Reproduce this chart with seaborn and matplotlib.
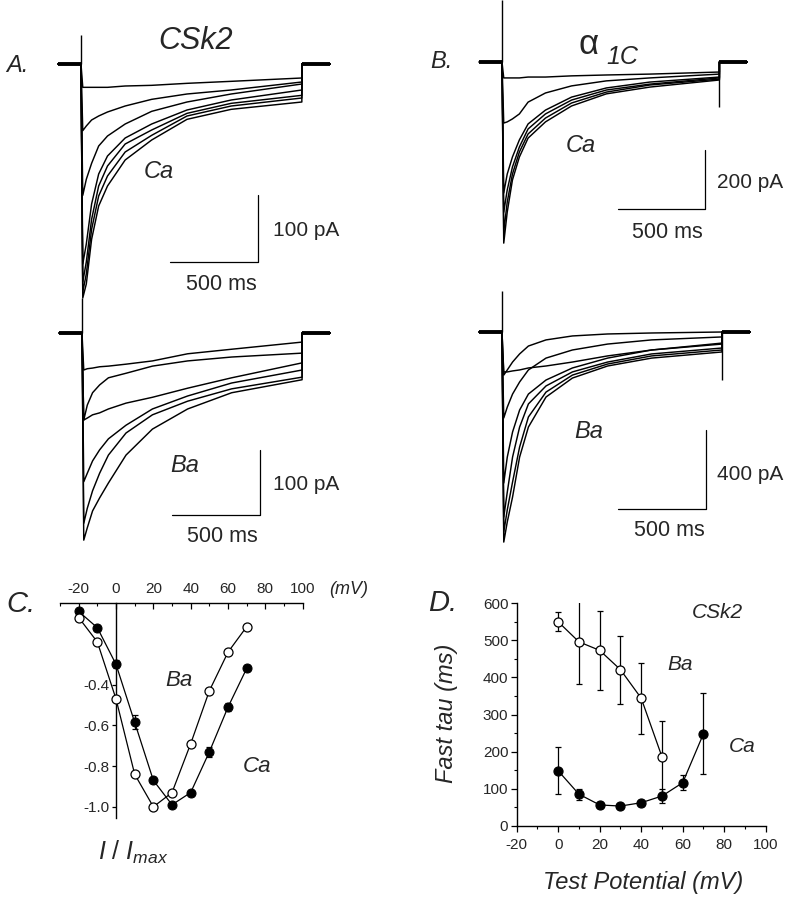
import matplotlib
matplotlib.use("Agg")
import matplotlib.pyplot as plt
import matplotlib.ticker as mticker
import pandas as pd
import seaborn as sns

sns.set_theme(style="white")
plt.rcParams['font.family'] = ['Liberation Sans', 'DejaVu Sans']
plt.rcParams['axes.unicode_minus'] = False
plt.rcParams['mathtext.fontset'] = 'custom'
plt.rcParams['mathtext.it'] = 'Liberation Sans:italic'
plt.rcParams['mathtext.rm'] = 'Liberation Sans'

W, H = 793, 899

# ---- whole-cell current sweeps (pA) sampled at step_t (ms after step onset) ----
step_t = [0, 10, 30, 60, 100, 150, 250, 400, 600, 850, 1250]
hold_t = [-130, 1410]

csk2_ca = [
    [0, -35, -35, -35, -35, -35, -33, -32, -29, -26, -21],
    [0, -100, -93, -84, -78, -72, -63, -53, -45, -39, -27],
    [0, -197, -173, -149, -123, -108, -90, -71, -57, -45, -30],
    [0, -300, -270, -210, -165, -138, -111, -90, -69, -54, -39],
    [0, -327, -297, -233, -183, -153, -120, -99, -74, -59, -47],
    [0, -342, -315, -248, -198, -168, -132, -107, -78, -63, -51],
    [0, -351, -330, -263, -213, -183, -144, -114, -83, -68, -57],
]
csk2_ba = [
    [0, -57, -55, -54, -52, -51, -48, -43, -32, -25, -14],
    [0, -134, -111, -92, -80, -69, -62, -51, -43, -37, -31],
    [0, -134, -131, -126, -123, -117, -108, -99, -85, -69, -46],
    [0, -229, -216, -197, -180, -163, -142, -117, -97, -77, -57],
    [0, -293, -270, -243, -216, -188, -154, -126, -105, -86, -68],
    [0, -319, -300, -274, -254, -231, -188, -148, -117, -92, -72],
]
a1c_ca = [
    [0, -54, -54, -54, -54, -51, -51, -47, -44, -41, -34],
    [0, -207, -203, -193, -176, -136, -105, -81, -64, -54, -41],
    [0, -444, -380, -322, -264, -210, -163, -119, -88, -68, -51],
    [0, -509, -434, -356, -288, -227, -176, -129, -95, -75, -54],
    [0, -576, -475, -380, -305, -244, -190, -139, -102, -78, -58],
    [0, -614, -509, -400, -322, -258, -203, -149, -108, -85, -61],
]
a1c_ba = [
    [0, -218, -192, -152, -111, -71, -40, -20, -10, -5, 0],
    [0, -202, -202, -197, -192, -182, -172, -152, -121, -91, -56],
    [0, -435, -380, -314, -253, -192, -132, -91, -61, -40, -25],
    [0, -764, -633, -506, -395, -314, -243, -182, -132, -91, -61],
    [0, -936, -810, -633, -481, -364, -273, -202, -152, -111, -81],
    [0, -1012, -900, -759, -582, -430, -304, -218, -162, -121, -91],
    [0, -1063, -961, -835, -633, -481, -329, -233, -172, -132, -101],
]
# capacitive transients at step on / off (pA)
cap_on = [44, 54, 210, 205]
cap_off = [0, 0, -153, -243]

# ---- C: normalised I-V ----
iv_v = [-20, -10, 0, 10, 20, 30, 40, 50, 60, 70]
iv_ca = [-0.04, -0.12, -0.30, -0.585, -0.87, -0.99, -0.93, -0.73, -0.51, -0.32]
iv_ca_err = [0.01, 0.015, 0.02, 0.035, 0.015, 0.01, 0.015, 0.025, 0.02, 0.015]
iv_ba = [-0.07, -0.19, -0.47, -0.84, -1.0, -0.93, -0.69, -0.43, -0.24, -0.115]

# ---- D: fast inactivation tau ----
tau_v_ba = [0, 10, 20, 30, 40, 50]
tau_ba = [550, 496, 473, 421, 344, 186]
tau_ba_err = [26, 115, 107, 92, 96, 97]
tau_v_ca = [0, 10, 20, 30, 40, 50, 60, 70]
tau_ca = [148, 85, 56, 53, 62, 80, 116, 248]
tau_ca_err = [63, 15, 8, 7, 8, 18, 20, 109]

fig = plt.figure(figsize=(W / 100, H / 100), dpi=100)


def px_axes(l, t, r, b):
    return fig.add_axes([l / W, 1 - b / H, (r - l) / W, (b - t) / H])


def ftext(x, y, s, size, style='italic', **kw):
    fig.text(x / W, 1 - y / H, s, fontsize=size, style=style,
             ha=kw.pop('ha', 'center'), va=kw.pop('va', 'center'), **kw)


def trace_panel(box, x0, y0, ms_px, pa_px, sweeps, on, off, corner, bar_pa):
    l, t, r, b = box
    ax = px_axes(l, t, r, b)
    ax.set_xlim((l - x0) * ms_px, (r - x0) * ms_px)
    ax.set_ylim(-(b - y0) * pa_px, (y0 - t) * pa_px)
    ax.axis('off')
    rows = []
    for k, s in enumerate(sweeps):
        tt = [hold_t[0]] + step_t + [step_t[-1], hold_t[1]]
        ii = [0] + s + [0, 0]
        rows += [dict(t=a, I=c, sweep=k) for a, c in zip(tt, ii)]
    df = pd.DataFrame(rows)
    sns.lineplot(data=df, x='t', y='I', units='sweep', estimator=None,
                 sort=False, color='black', lw=1.05, ax=ax, legend=False)
    ax.plot([hold_t[0], 0], [0, 0], color='black', lw=2.8, solid_capstyle='butt')
    ax.plot([step_t[-1], hold_t[1]], [0, 0], color='black', lw=2.8, solid_capstyle='butt')
    ax.vlines([0, step_t[-1]], 0, [on, off], color='black', lw=1.0)
    ct, ci = corner
    ax.plot([ct - 500, ct, ct], [ci, ci, ci + bar_pa], color='black', lw=0.9,
            clip_on=False)
    return ax


trace_panel((50, 25, 340, 300), 81, 64, 5.66, 1.5, csk2_ca, cap_on[0], cap_off[0], (1003, -297), 100)
trace_panel((50, 290, 340, 560), 82, 333, 5.68, 1.54, csk2_ba, cap_on[1], cap_off[1], (1011, -280), 100)
trace_panel((470, 0, 760, 290), 502, 62, 5.75, 3.39, a1c_ca, cap_on[2], cap_off[2], (1167, -498), 200)
trace_panel((470, 285, 760, 560), 502, 332, 5.68, 5.06, a1c_ba, cap_on[3], cap_off[3], (1159, -896), 400)

# text of trace panels
ftext(17, 65, 'A.', 17)
ftext(196, 41, 'CSk2', 22)
ftext(159, 171, 'Ca', 17)
ftext(273, 231, '100 pA', 15, style='normal', ha='left')
ftext(221, 284, '500 ms', 15.5, style='normal')
ftext(441, 62, 'B.', 17)
ftext(589, 44, '\u03b1', 25, style='normal')
ftext(622, 57, '1C', 18)
ftext(581, 145, 'Ca', 17)
ftext(717, 183, '200 pA', 15, style='normal', ha='left')
ftext(667, 232, '500 ms', 15.5, style='normal')
ftext(185, 465, 'Ba', 17)
ftext(273, 485, '100 pA', 15, style='normal', ha='left')
ftext(222, 537, '500 ms', 15.5, style='normal')
ftext(589, 431, 'Ba', 17)
ftext(717, 474, '400 pA', 15, style='normal', ha='left')
ftext(669, 531, '500 ms', 15.5, style='normal')

# ---- panel C ----
axc = px_axes(60, 603.3, 302.7, 818)
sns.lineplot(x=iv_v, y=iv_ca, color='black', lw=0.9, ax=axc, marker='o',
             markersize=6.5, markerfacecolor='black', markeredgecolor='black', zorder=3)
axc.errorbar(iv_v, iv_ca, yerr=iv_ca_err, fmt='none', ecolor='black',
             elinewidth=0.9, capsize=2.5, capthick=0.9, zorder=2)
sns.lineplot(x=iv_v, y=iv_ba, color='black', lw=0.9, ax=axc, marker='o',
             markersize=6.5, markerfacecolor='white', markeredgecolor='black',
             markeredgewidth=0.9, zorder=4)
axc.set_xlim(-30, 100)
axc.set_ylim(-1.055, 0)
for s in ['bottom', 'right']:
    axc.spines[s].set_visible(False)
axc.spines['left'].set_position(('data', 0))
for s in ['left', 'top']:
    axc.spines[s].set_color('black')
    axc.spines[s].set_linewidth(1.0)
axc.xaxis.tick_top()
axc.set_xticks([-20, 0, 20, 40, 60, 80, 100])
axc.xaxis.set_minor_locator(mticker.MultipleLocator(10))
axc.set_yticks([-1.0, -0.8, -0.6, -0.4])
axc.set_yticklabels(['-1.0', '-0.8', '-0.6', '-0.4'])
axc.tick_params(axis='x', which='both', direction='in', top=True, bottom=False,
                color='black', labelsize=11, pad=5)
axc.tick_params(axis='x', which='major', length=4, width=0.9)
axc.tick_params(axis='x', which='minor', length=2, width=0.8)
axc.tick_params(axis='y', direction='out', left=True, length=3, width=0.9,
                color='black', labelsize=11, pad=2)
axc.set_xlabel('')
axc.set_ylabel('')
ftext(21, 604, 'C.', 21)
ftext(349, 590, '(mV)', 13)
ftext(179, 681, 'Ba', 16)
ftext(257, 766, 'Ca', 16)
ftext(133, 852, r'$I\ /\ I_{max}$', 18, style='normal')

# ---- panel D ----
axd = px_axes(516.7, 603.3, 765.7, 825.7)
sns.lineplot(x=tau_v_ba, y=tau_ba, color='black', lw=0.9, ax=axd, zorder=1)
axd.errorbar(tau_v_ba, tau_ba, yerr=tau_ba_err, fmt='none', ecolor='black',
             elinewidth=0.9, capsize=2.5, capthick=0.9, zorder=2)
sns.scatterplot(x=tau_v_ba, y=tau_ba, ax=axd, s=42, color='white',
                edgecolor='black', linewidth=0.9, zorder=4)
sns.lineplot(x=tau_v_ca, y=tau_ca, color='black', lw=0.9, ax=axd, zorder=1)
axd.errorbar(tau_v_ca, tau_ca, yerr=tau_ca_err, fmt='none', ecolor='black',
             elinewidth=0.9, capsize=2.5, capthick=0.9, zorder=2)
sns.scatterplot(x=tau_v_ca, y=tau_ca, ax=axd, s=42, color='black',
                edgecolor='black', linewidth=0.9, zorder=4)
axd.set_xlim(-20, 100)
axd.set_ylim(0, 600)
for s in ['top', 'right']:
    axd.spines[s].set_visible(False)
for s in ['left', 'bottom']:
    axd.spines[s].set_color('black')
    axd.spines[s].set_linewidth(1.0)
axd.set_xticks([-20, 0, 20, 40, 60, 80, 100])
axd.set_yticks([0, 100, 200, 300, 400, 500, 600])
axd.xaxis.set_minor_locator(mticker.MultipleLocator(10))
axd.yaxis.set_minor_locator(mticker.MultipleLocator(50))
axd.tick_params(which='both', direction='out', bottom=True, left=True,
                color='black', labelsize=11)
axd.tick_params(which='major', length=4, width=0.9)
axd.tick_params(which='minor', length=2, width=0.8)
axd.tick_params(axis='x', pad=5)
axd.tick_params(axis='y', pad=2)
axd.set_xlabel('')
axd.set_ylabel('')
ftext(443, 603, 'D.', 21)
ftext(717, 613, 'CSk2', 15)
ftext(680, 664, 'Ba', 15)
ftext(742, 746, 'Ca', 15)
ftext(447, 713, 'Fast tau (ms)', 17, rotation=90)
ftext(643, 883, 'Test Potential (mV)', 17)

fig.savefig('out.png', dpi=100)
